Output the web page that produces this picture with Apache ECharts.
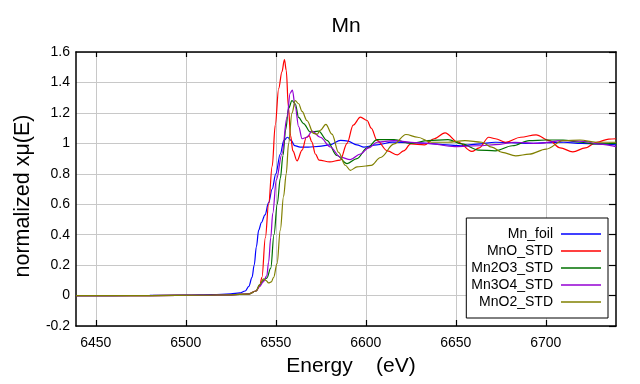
<!DOCTYPE html>
<html>
<head>
<meta charset="utf-8">
<script src="https://cdn.jsdelivr.net/npm/echarts@6/dist/echarts.min.js"></script>
<style>html,body{margin:0;padding:0;background:#fff}#c{width:640px;height:384px}</style>
</head>
<body>
<div id="c"></div>
<script>
// ---- data ----
const seriesNames = ['Mn_foil', 'MnO_STD', 'Mn2O3_STD', 'Mn3O4_STD', 'MnO2_STD'];
const xTicks = [6450, 6500, 6550, 6600, 6650, 6700];

const foilE  = [6439,6460,6480,6500,6515,6525,6530,6533,6535,6536.8,6538,6539.2,6540.5,6542,6544,6546,6548,6550,6552.5,6554.5,6556.5,6558.5,6560.5,6563.5,6568,6574,6580,6586,6590,6595,6599,6606,6615,6625,6634,6645,6653,6662,6672,6681,6691,6700,6710,6720,6728,6739];
const foilMu = [0,0,0.001,0.003,0.006,0.011,0.017,0.03,0.06,0.12,0.2,0.32,0.43,0.48,0.53,0.61,0.70,0.80,0.93,1.02,1.04,1.02,0.985,0.975,0.975,0.98,0.99,1.02,1.015,0.99,0.975,0.99,1.008,1.005,1.0,0.99,0.984,0.995,1.007,1.004,1.0,1.004,1.007,1.0,0.996,0.99];

const mnoE  = [6439,6480,6510,6525,6535,6539,6541,6542.3,6544.2,6546,6548,6549.7,6551.6,6553.4,6554.8,6555.8,6557,6558.2,6559.5,6561.8,6564.6,6567,6568.5,6570,6572,6574,6580,6585.8,6589.6,6593,6597,6600.7,6603,6606.3,6612,6617.6,6621,6625,6632.6,6638,6644,6651.4,6658.9,6663,6668.3,6672,6677.7,6686,6694.6,6702,6708,6715,6722,6728.3,6735,6739];
const mnoMu = [0,0,0.002,0.005,0.012,0.03,0.06,0.12,0.38,0.6,0.85,1.12,1.36,1.47,1.55,1.48,1.24,1.05,0.95,0.885,0.955,1.04,1.05,1.01,0.93,0.89,0.878,0.89,1.0,1.12,1.172,1.15,1.1,1.018,0.95,0.924,0.95,0.996,0.99,1.03,1.069,1.007,0.947,0.97,1.04,1.03,1.007,1.04,1.056,1.018,0.97,0.944,0.97,1.007,1.028,1.03];

const mn2o3E  = [6439,6480,6510,6525,6535,6539,6541,6543,6545,6547.2,6549,6550.8,6552.5,6554,6555.5,6557.1,6559,6560.8,6562.7,6565.4,6569.2,6573.8,6578.4,6584,6589.6,6595.1,6600.7,6606.3,6615.7,6625,6634.5,6645.7,6653.3,6662.6,6672,6681.4,6690.8,6700.2,6709.6,6719,6728,6739];
const mn2o3Mu = [0,0,0.002,0.005,0.01,0.03,0.07,0.10,0.115,0.18,0.40,0.60,0.77,0.92,1.09,1.23,1.28,1.26,1.17,1.13,1.075,1.08,1.02,0.92,0.867,0.90,0.97,1.024,1.024,1.0,1.018,1.024,0.996,0.956,0.951,0.984,1.018,1.022,1.022,1.007,0.996,1.0];

const mn3o4E  = [6439,6480,6510,6525,6535,6539,6541,6543,6545,6546,6547.2,6548.3,6550.3,6553.4,6556.2,6558,6559.2,6560.8,6562.7,6564.6,6567.3,6570.1,6574.7,6580.3,6585.8,6591.4,6597,6601.6,6606.3,6615.7,6625,6634.5,6649.5,6662.6,6672,6683,6696,6709.6,6720.9,6730,6739];
const mn3o4Mu = [0,0,0.002,0.005,0.01,0.03,0.06,0.09,0.13,0.22,0.38,0.54,0.76,0.93,1.17,1.33,1.35,1.24,1.11,1.03,1.04,1.08,1.04,0.976,0.91,0.893,0.93,0.97,1.007,1.018,1.007,1.0,0.978,0.984,0.991,1.007,1.0,1.018,1.013,0.995,0.978];

const mno2E  = [6439,6480,6510,6525,6535,6539,6541,6543.2,6544.5,6546,6547.5,6548.8,6550.7,6552.5,6554.3,6555.8,6557.1,6559,6560.8,6562.7,6564.6,6567.3,6571,6573,6574.7,6577.8,6581.2,6584.9,6588.6,6591.4,6595.1,6600,6603,6608.2,6615.7,6622.3,6628.8,6636.4,6645.7,6655.1,6664.5,6670,6675.8,6683.3,6690.8,6700.2,6709.6,6719,6728,6739];
const mno2Mu = [0,0,0.002,0.005,0.01,0.03,0.07,0.11,0.10,0.083,0.09,0.12,0.21,0.43,0.65,0.80,1.0,1.2,1.28,1.26,1.21,1.15,1.065,1.06,1.085,1.125,1.06,0.94,0.856,0.823,0.845,0.851,0.855,0.907,0.996,1.058,1.04,1.007,1.007,1.018,1.007,0.975,0.94,0.918,0.929,0.962,1.018,1.022,1.007,1.007];

const colors = ['#0000ff', '#ff0000', '#007000', '#9400d3', '#808000'];
const energies = [foilE, mnoE, mn2o3E, mn3o4E, mno2E];
const mus = [foilMu, mnoMu, mn2o3Mu, mn3o4Mu, mno2Mu];

// ---- chart ----
const FONT = 'Liberation Sans, Arial, sans-serif';
const chart = echarts.init(document.getElementById('c'), null, {renderer: 'canvas'});
const series = seriesNames.map((n, i) => ({
  name: n,
  type: 'line',
  data: energies[i].map((e, j) => [e, mus[i][j]]),
  symbol: 'none',
  smooth: 0.35,
  smoothMonotone: 'x',
  lineStyle: {color: colors[i], width: 1.2},
  itemStyle: {color: colors[i]},
  xAxisIndex: 0,
  yAxisIndex: 0
}));

chart.setOption({
  animation: false,
  backgroundColor: '#fff',
  title: {
    text: 'Mn', left: 341, top: 11, textAlign: 'center',
    textStyle: {fontFamily: FONT, fontSize: 21, fontWeight: 'normal', color: '#000'}
  },
  grid: {left: 76, right: 24, top: 52, bottom: 58},
  legend: {
    orient: 'vertical', right: 32, top: 218, align: 'right',
    icon: 'rect', itemWidth: 40, itemHeight: 1.5, itemGap: 3,
    backgroundColor: '#fff', borderColor: '#000', borderWidth: 1, borderRadius: 0,
    padding: [9, 7, 9, 5],
    textStyle: {fontFamily: FONT, fontSize: 14, color: '#000', padding: [0, 3, 0, 0], lineHeight: 14},
    data: seriesNames
  },
  xAxis: [{
    type: 'value', min: 6439, max: 6739, position: 'bottom',
    name: 'Energy    (eV)', nameLocation: 'middle', nameGap: 30,
    nameTextStyle: {fontFamily: FONT, fontSize: 21, color: '#000', padding: [0, 0, 0, 10]},
    axisLine: {onZero: false, lineStyle: {color: '#000', width: 1.5}},
    axisTick: {show: true, inside: true, length: 6, customValues: xTicks, lineStyle: {color: '#000', width: 1.2}},
    axisLabel: {customValues: xTicks, margin: 10, fontFamily: FONT, fontSize: 14, color: '#000', formatter: v => String(v)},
    splitLine: {show: true, lineStyle: {color: '#c8c8c8', width: 1}}
  }, {
    type: 'value', min: 6439, max: 6739, position: 'top',
    axisLine: {onZero: false, lineStyle: {color: '#000', width: 1.5}},
    axisTick: {show: true, inside: true, length: 5, customValues: xTicks, lineStyle: {color: '#000', width: 1.2}},
    axisLabel: {show: false, customValues: xTicks},
    splitLine: {show: false}
  }],
  yAxis: [{
    type: 'value', min: -0.2, max: 1.6, interval: 0.2, position: 'left',
    name: 'normalized xμ(E)', nameLocation: 'middle', nameGap: 42,
    nameTextStyle: {fontFamily: FONT, fontSize: 21.5, color: '#000', padding: [0, 14, 0, 0]},
    axisLine: {onZero: false, lineStyle: {color: '#000', width: 1.5}},
    axisTick: {show: false},
    axisLabel: {margin: 6, fontFamily: FONT, fontSize: 14, color: '#000'},
    splitLine: {show: true, lineStyle: {color: '#c8c8c8', width: 1}}
  }, {
    type: 'value', min: -0.2, max: 1.6, interval: 0.2, position: 'right',
    axisLine: {show: true, onZero: false, lineStyle: {color: '#000', width: 1.5}},
    axisTick: {show: true, inside: true, length: 7, lineStyle: {color: '#000', width: 1.2}},
    axisLabel: {show: false},
    splitLine: {show: false}
  }],
  series: series
});
</script>
</body>
</html>
